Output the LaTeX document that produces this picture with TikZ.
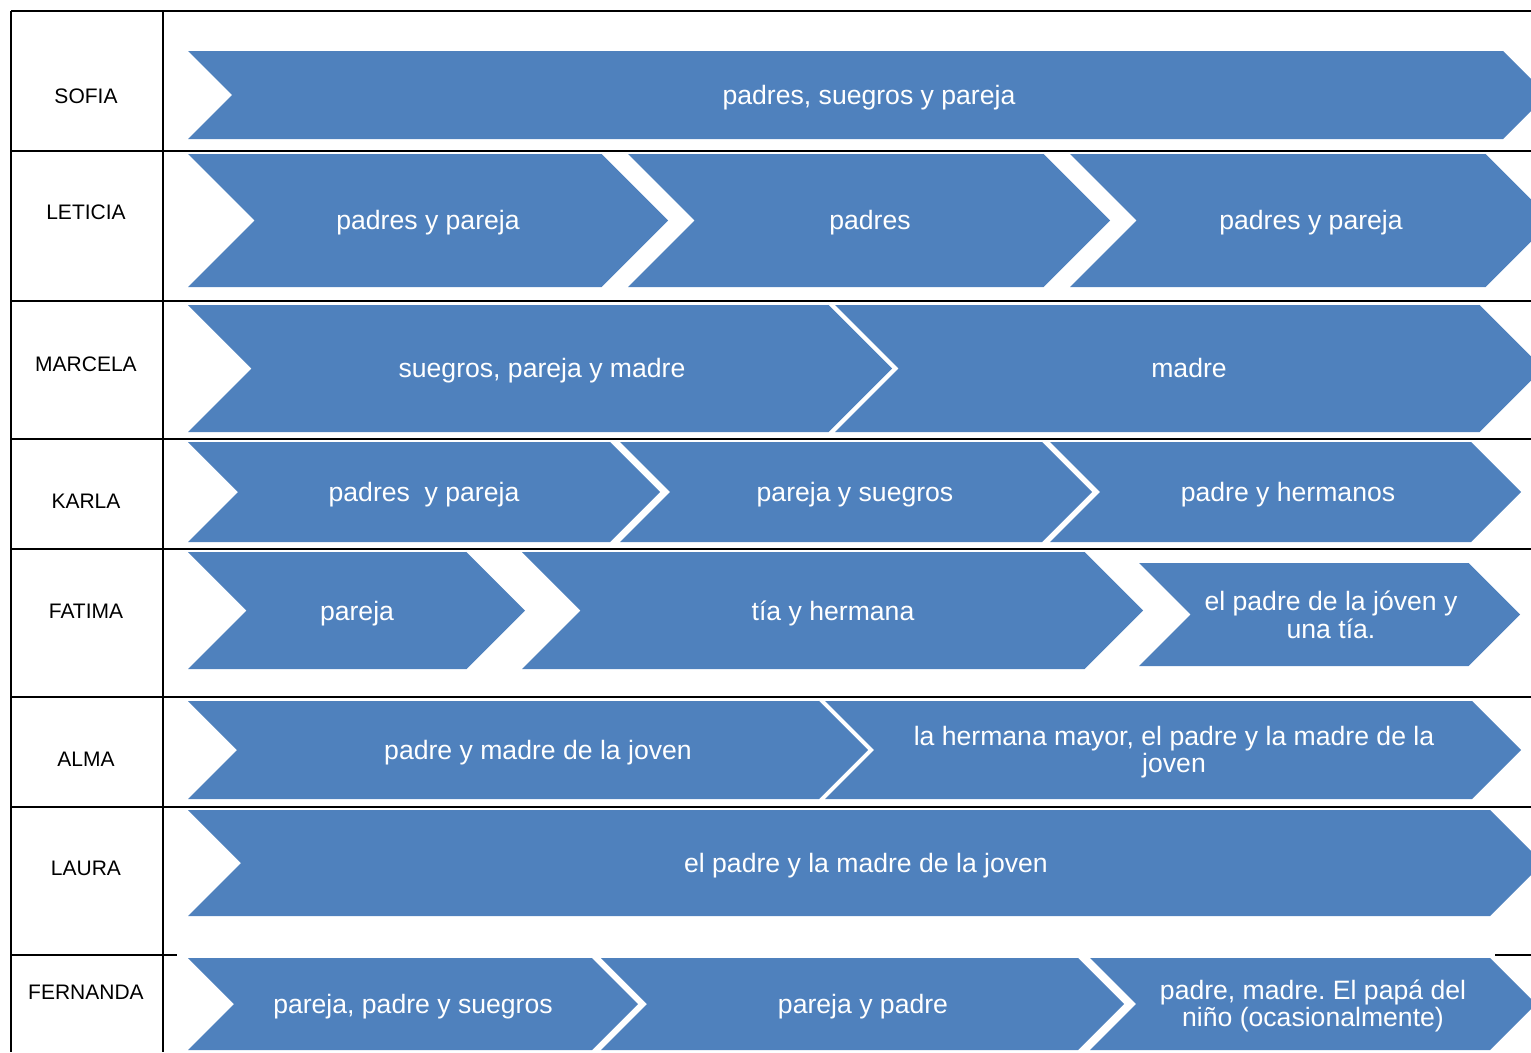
\documentclass[tikz,border=0pt]{standalone}
\usepackage{fontspec}
\setmainfont{Liberation Sans}
\frenchspacing
\definecolor{chevblue}{HTML}{4F81BD}

% chevron: left x, tip x, top y, bottom y (45 degree notch and tip)
\newcommand\chevpath[4]{%
  \pgfmathsetmacro\chh{(#4-#3)/2}%
  \pgfmathsetmacro\chm{(#4+#3)/2}%
  \fill[chevblue] (#1,#3) -- ({#2-\chh},#3) -- (#2,\chm) -- ({#2-\chh},#4)
    -- (#1,#4) -- ({#1+\chh},\chm) -- cycle;}

\begin{document}
\begin{tikzpicture}[x=1pt,y=-1pt,
  ctext/.style={text=white, font=\fontsize{26.6}{27.5}\selectfont, align=center, inner sep=0pt},
  cline/.style={ctext, text height=19pt, text depth=0pt},
  rowname/.style={font=\fontsize{21}{24}\selectfont, inner sep=0pt},
  gridline/.style={line width=2pt, black}]
\useasboundingbox (0,0) rectangle (1531,1052);
\clip (0,0) rectangle (1531,1052);

% table frame
\draw[gridline] (11,11) -- (1531,11);
\draw[gridline] (11,11) -- (11,1052);
\draw[gridline] (163,11) -- (163,1052);
\foreach \yy in {151,301,439,549,697,807}
  \draw[gridline] (11,\yy) -- (1531,\yy);
\draw[gridline] (11,955) -- (177,955);
\draw[gridline] (1495,955) -- (1531,955);

% row names
\node[rowname] (nSofia)    at (86,96)  {SOFIA};
\node[rowname] (nLeticia)  at (86,212) {LETICIA};
\node[rowname] (nMarcela)  at (86,364) {MARCELA};
\node[rowname] (nKarla)    at (86,501) {KARLA};
\node[rowname] (nFatima)   at (86,611) {FATIMA};
\node[rowname] (nAlma)     at (86,759) {ALMA};
\node[rowname] (nLaura)    at (86,868) {LAURA};
\node[rowname] (nFernanda) at (86,992) {FERNANDA};

% SOFIA
\chevpath{188}{1547}{51}{139}
\node[cline] (s1) at (869,95) {padres, suegros y pareja};

% LETICIA
\chevpath{188}{668}{154}{287}
\chevpath{628}{1110}{154}{287}
\chevpath{1070}{1552}{154}{287}
\node[cline] (l1) at (428,220) {padres y pareja};
\node[cline] (l2) at (870,220) {padres};
\node[cline] (l3) at (1311,220) {padres y pareja};

% MARCELA
\chevpath{188}{892}{305}{432}
\chevpath{835}{1543}{305}{432}
\node[cline] (m1) at (542,368) {suegros, pareja y madre};
\node[cline] (m2) at (1189,368) {madre};

% KARLA
\chevpath{188}{660}{442}{542}
\chevpath{620}{1092}{442}{542}
\chevpath{1050}{1521}{442}{542}
\node[cline] (k1) at (424,492) {padres\ \ y pareja};
\node[cline] (k2) at (855,492) {pareja y suegros};
\node[cline] (k3) at (1288,492) {padre y hermanos};

% FATIMA
\chevpath{188}{525}{552}{669}
\chevpath{522}{1143}{552}{669}
\chevpath{1139}{1520}{563}{666}
\node[cline] (f1) at (357,611) {pareja};
\node[cline] (f2) at (833,611) {tía y hermana};
\node[ctext] (f3) at (1331,615) {el padre de la jóven y\\una tía.};

% ALMA
\chevpath{188}{868}{701}{799}
\chevpath{825}{1521}{701}{799}
\node[cline] (a1) at (538,750) {padre y madre de la joven};
\node[ctext] (a2) at (1174,752) {la hermana mayor, el padre y la madre de la\\joven};

% LAURA
\chevpath{188}{1543}{810}{916}
\node[cline] (r1) at (866,863) {el padre y la madre de la joven};

% FERNANDA
\chevpath{188}{638}{958}{1050}
\chevpath{601}{1124}{958}{1050}
\chevpath{1090}{1536}{958}{1050}
\node[cline] (e1) at (413,1004) {pareja, padre y suegros};
\node[cline] (e2) at (863,1004) {pareja y padre};
\node[ctext] (e3) at (1313,1006) {padre, madre. El papá del\\niño (ocasionalmente)};
\end{tikzpicture}
\end{document}
